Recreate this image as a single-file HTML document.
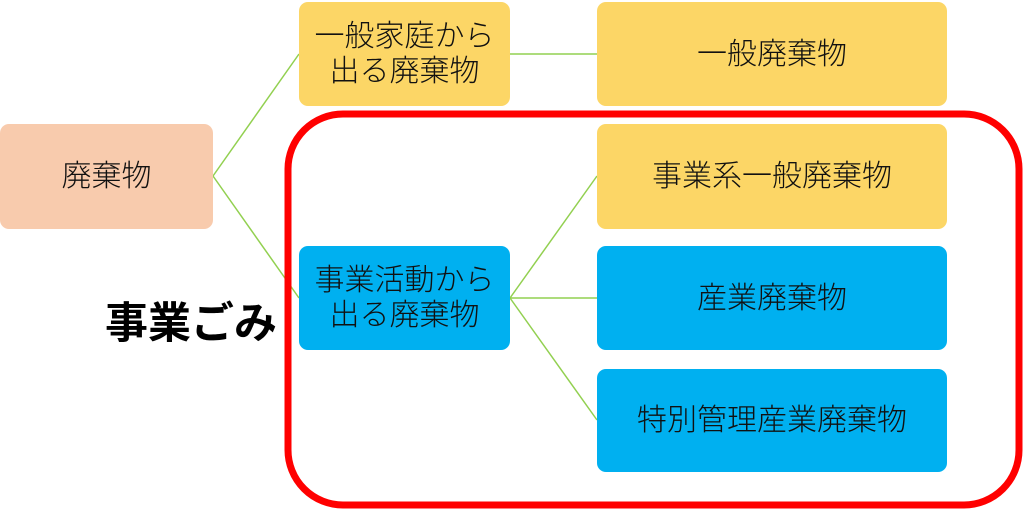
<!DOCTYPE html>
<html><head><meta charset="utf-8"><style>
body{margin:0;width:1024px;height:512px;background:#fff;position:relative;overflow:hidden;font-family:"Liberation Sans","Noto Sans CJK JP",sans-serif;}
.b{position:absolute;border-radius:9px;display:flex;align-items:center;justify-content:center;text-align:center;font-size:30px;line-height:35px;color:#111;font-weight:300;}
.y{background:#FCD666}.bl{background:#00B0F0}.p{background:#F8CBAD}
</style></head><body>
<svg width="1024" height="512" style="position:absolute;left:0;top:0">
<g stroke="#92D050" stroke-width="1.5" fill="none">
<line x1="213" y1="176" x2="299" y2="54"/><line x1="213" y1="176" x2="299" y2="298"/>
<line x1="510" y1="54" x2="597" y2="54"/>
<line x1="510" y1="298" x2="597" y2="176"/><line x1="510" y1="298" x2="597" y2="298"/><line x1="510" y1="298" x2="597" y2="420"/>
</g>
<rect x="288" y="114" width="731" height="391" rx="55" fill="none" stroke="#FF0000" stroke-width="7"/>
</svg>
<div class="b p" style="left:0;top:124px;width:213px;height:105px">廃棄物</div>
<div class="b y" style="left:299px;top:2px;width:211px;height:104px">一般家庭から<br>出る廃棄物</div>
<div class="b y" style="left:597px;top:2px;width:350px;height:104px">一般廃棄物</div>
<div class="b y" style="left:597px;top:124px;width:350px;height:105px">事業系一般廃棄物</div>
<div class="b bl" style="left:299px;top:246px;width:211px;height:104px">事業活動から<br>出る廃棄物</div>
<div class="b bl" style="left:597px;top:246px;width:350px;height:104px">産業廃棄物</div>
<div class="b bl" style="left:597px;top:369px;width:350px;height:103px">特別管理産業廃棄物</div>
<div style="position:absolute;left:105px;top:297px;font-size:43px;font-weight:bold;line-height:54px;color:#000">事業ごみ</div>
</body></html>
